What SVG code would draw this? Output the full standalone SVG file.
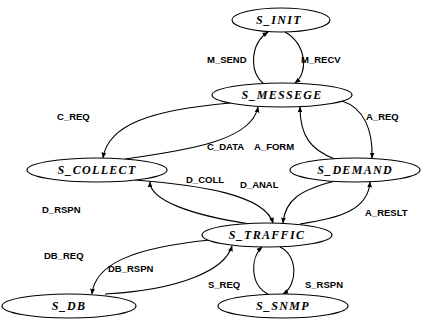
<svg xmlns="http://www.w3.org/2000/svg" width="444" height="320" viewBox="0 0 444 320">
<defs>
<style>
.node ellipse{fill:#fff;stroke:#000;stroke-width:1.2}
.node text{font-family:"Liberation Serif",serif;font-weight:bold;font-style:italic;font-size:12px;letter-spacing:1.3px;text-anchor:middle}
.edges path{fill:none;stroke:#000;stroke-width:1.1;marker-end:url(#ah)}
.lbl{font-family:"Liberation Sans",sans-serif;font-weight:bold;font-size:9.5px}
</style>
<marker id="ah" viewBox="0 0 10 10" refX="9" refY="5" markerWidth="6" markerHeight="6" orient="auto" markerUnits="userSpaceOnUse">
<path d="M0,1 L10,5 L0,9 z" fill="#000"/>
</marker>
</defs>
<rect width="444" height="320" fill="#fff"/>
<g class="edges">
<path d="M264,84 C249,72 250,44 268,32"/>
<path d="M285,32 C306,44 309,72 295,83"/>
<path d="M230,103 C150,110 108,125 103,158"/>
<path d="M125,159 C190,150 252,140 258,107"/>
<path d="M335,159 C310,150 300,135 300,107"/>
<path d="M342,101 C364,108 373,130 372,158"/>
<path d="M135,180 C200,185 265,195 273,223"/>
<path d="M250,224 C190,215 150,200 150,182"/>
<path d="M335,181 C300,190 285,200 283,223"/>
<path d="M300,224 C340,218 368,210 370,182"/>
<path d="M210,240 C130,248 95,265 92,294"/>
<path d="M105,294 C180,290 225,270 232,246"/>
<path d="M268,294 C250,285 250,258 262,247"/>
<path d="M280,247 C298,255 298,285 283,294"/>
</g>
<g class="labels">
<text class="lbl" x="207" y="63">M_SEND</text>
<text class="lbl" x="301" y="63">M_RECV</text>
<text class="lbl" x="57" y="120">C_REQ</text>
<text class="lbl" x="366" y="120">A_REQ</text>
<text class="lbl" x="207" y="150">C_DATA</text>
<text class="lbl" x="254" y="150">A_FORM</text>
<text class="lbl" x="186" y="183">D_COLL</text>
<text class="lbl" x="240" y="188">D_ANAL</text>
<text class="lbl" x="42" y="213">D_RSPN</text>
<text class="lbl" x="365" y="216">A_RESLT</text>
<text class="lbl" x="44" y="259">DB_REQ</text>
<text class="lbl" x="108" y="272">DB_RSPN</text>
<text class="lbl" x="208" y="288">S_REQ</text>
<text class="lbl" x="305" y="288">S_RSPN</text>
</g>
<g id="s_init" class="node"><ellipse cx="281" cy="20" rx="49" ry="12"/><text x="279" y="24">S_INIT</text></g>
<g id="s_messege" class="node"><ellipse cx="282" cy="95" rx="70" ry="12"/><text x="282" y="99">S_MESSEGE</text></g>
<g id="s_collect" class="node"><ellipse cx="97" cy="170" rx="70" ry="12"/><text x="97" y="174">S_COLLECT</text></g>
<g id="s_demand" class="node"><ellipse cx="355" cy="170" rx="65" ry="12"/><text x="355" y="174">S_DEMAND</text></g>
<g id="s_traffic" class="node"><ellipse cx="267" cy="235" rx="65" ry="12"/><text x="267" y="239">S_TRAFFIC</text></g>
<g id="s_db" class="node"><ellipse cx="69" cy="306" rx="67" ry="12"/><text x="69" y="310">S_DB</text></g>
<g id="s_snmp" class="node"><ellipse cx="283" cy="306" rx="65" ry="12"/><text x="283" y="310">S_SNMP</text></g>
</svg>
